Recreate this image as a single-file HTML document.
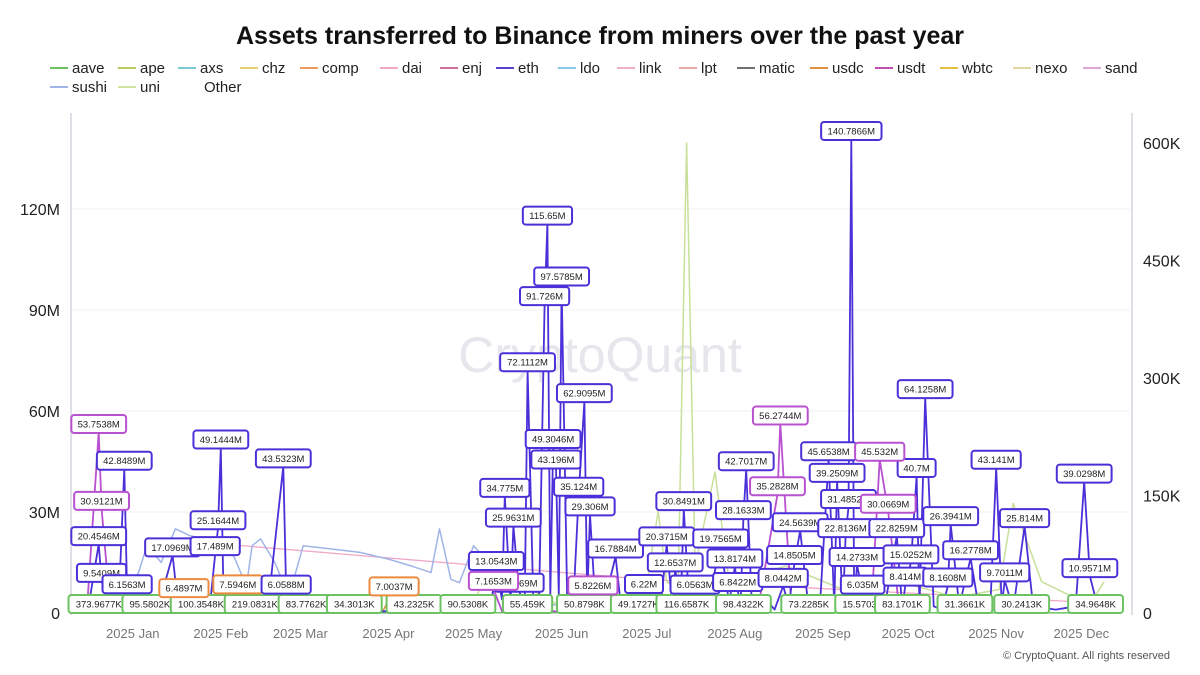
<!DOCTYPE html>
<html><head><meta charset="utf-8"><style>
body{margin:0;background:#fff;font-family:"Liberation Sans",sans-serif}
svg{display:block}
</style></head><body>
<svg id="chart" width="1200" height="675" font-family="Liberation Sans, sans-serif">
<text x="600" y="44" text-anchor="middle" font-size="25" font-weight="bold" fill="#111">Assets transferred to Binance from miners over the past year</text>
<g id="legend"></g>
<text x="600" y="372" text-anchor="middle" font-size="50" fill="#e6e6ec">CryptoQuant</text>
<line x1="71" y1="113" x2="71" y2="615" stroke="#d4d4dc" stroke-width="1.5"/>
<line x1="1132" y1="113" x2="1132" y2="615" stroke="#d4d4dc" stroke-width="1.5"/>
<g id="grid"></g><g id="series"></g><g id="labels"></g>
<text x="1170" y="659" text-anchor="end" font-size="11" fill="#555">© CryptoQuant. All rights reserved</text>
</svg>
<script>
const legendNames=["aave","ape","axs","chz","comp","dai","enj","eth","ldo","link","lpt","matic","usdc","usdt","wbtc","nexo","sand","sushi","uni","Other"];
const legendColors=["#6cc262","#b8cc5e","#7ccbd4","#e6cf6e","#ec9a5e","#f2a8c4","#d0709e","#5a40c8","#88c8e8","#f0b0c8","#e8a8a8","#707070","#e09040","#c050b0","#e8c040","#e0d8a0","#e0a8d8","#a0b4e8","#d0e4a0",""];
const legendX=[50,118,178,240,300,380,440,496,558,617,679,737,810,875,940,1013,1083,50,118,182];
const leftTicks=[0,30,60,90,120];
const leftTickLabels=["0","30M","60M","90M","120M"];
const rightTicks=[150,300,450,600];
const rightTickLabels=["150K","300K","450K","600K"];
const monthDays=[20,51,79,110,140,171,201,232,263,293,324,354];
const monthLabels=["2025 Jan","2025 Feb","2025 Mar","2025 Apr","2025 May","2025 Jun","2025 Jul","2025 Aug","2025 Sep","2025 Oct","2025 Nov","2025 Dec"];
const ethDays=[2,5,8,9,11,13,15,17,18,20,25,30,34,36,40,44,47,49,50,51,52,56,62,68,73,74,76,90,110,130,140,146,148,150,151,153,154,156,158,159,161,163,165,166,167,168,169,170,171,173,175,177,179,180,181,183,186,190,192,196,200,203,206,208,210,211,213,214,216,218,222,227,230,232,233,234,235,236,238,242,246,249,251,253,255,258,262,265,267,268,270,271,272,273,274,275,277,280,285,289,291,292,294,296,297,299,302,305,307,308,311,315,318,322,324,326,327,330,334,337,345,352,355,357,360];
const ethVals=[2,5,20.4546,9.5409,3,5.5,2,42.8489,6.1563,1,4,5,17.0969,2,5,3,1,17.489,25.1644,49.1444,2,5,1,5,43.5323,6.0588,1,0.5,0.5,1,0.5,2,13.0543,4,34.775,3,25.9631,6.5969,2,72.1112,5,1,91.726,115.65,5,49.3046,43.196,5,97.5785,2,1,35.124,62.9095,4,29.306,1,3,16.7884,1,2,6.22,1,3,20.3715,2,12.6537,4,30.8491,1,6.0563,2,19.7565,3,13.8174,6.8422,2,28.1633,42.7017,2,5,1,8.0442,2,14.8505,24.5639,1,3,45.6538,2,39.2509,1,22.8136,31.4852,140.7866,2,14.2733,6.035,1,3,22.8259,1,8.414,15.0252,40.7,2,64.1258,2,1,8.1608,26.3941,2,16.2778,1,3,43.141,2,9.7011,1,25.814,2,1,2,39.0298,10.9571,1];
const enjDays=[4,8,9,12,20,60,146,147,150,180,182,185,240,247,248,252,280,283,286,290,300];
const enjVals=[3,53.7538,30.9121,2,0.5,0.5,0.5,7.1653,0.5,0.5,5.8226,0.5,0.5,35.2828,56.2744,0.5,0.5,45.532,30.0669,0.5,0.5];
const compDays=[5,30,38,45,55,57,60,80,100,108,112,116,125];
const compVals=[1,0.5,6.4897,0.5,0.5,7.5946,0.5,0.5,0.5,0.5,7.0037,0.5,0.3];
const aaveDays=[8,26,44,63,81,98,119,138,159,179,198,215,235,258,277,291,313,333,359];
const aaveVals=[373.9677,95.5802,100.3548,219.0831,83.7762,34.3013,43.2325,90.5308,55.459,50.8798,49.1727,116.6587,98.4322,73.2285,15.5703,83.1701,31.3661,30.2413,34.9648];
const sushiDays=[15,22,25,30,35,40,45,50,55,60,62,65,70,75,80,90,100,110,118,125,128,132,135,140,142,145,150,160,175,200];
const sushiVals=[3,12,20,15,25,23,22,21,18,8,20,22,15,5,20,19,18,16,14,12,25,10,9,20,18,18,5,3,2,1];
const uniDays=[120,130,140,145,150,160,170,180,190,200,205,208,212,215,218,225,230,250,270,290,310,325,330,340,357,362];
const uniVals=[5,20,10,60,40,30,10,20,5,15,130,40,30,600,60,180,40,60,30,40,20,30,140,40,10,40];
const daiDays=[30,200,360];
const daiVals=[22,10,3];

const NS="http://www.w3.org/2000/svg";
const X=d=>76+d*2.84;
const YL=v=>613-v*3.367;
const YR=v=>613-v*0.7833;
function mk(tag,attrs,parent,text){const e=document.createElementNS(NS,tag);for(const k in attrs)e.setAttribute(k,attrs[k]);if(text!==undefined)e.textContent=text;parent.appendChild(e);return e;}
const grid=document.getElementById('grid'),series=document.getElementById('series'),labels=document.getElementById('labels'),legend=document.getElementById('legend');

legendNames.forEach((n,i)=>{
  const y=i<17?68:87;
  const g=mk('g',{},legend);
  
  
  if(legendColors[i]) mk('line',{x1:legendX[i],y1:y,x2:legendX[i]+18,y2:y,stroke:legendColors[i],'stroke-width':2},g);
  mk('text',{x:legendX[i]+22,y:y+5,'font-size':15,fill:'#222'},g,n);
});
leftTicks.forEach((v,i)=>{
  if(v>0){const l=mk('line',{x1:73,x2:1130,y1:YL(v),y2:YL(v),stroke:'#f2f2f4'},grid);
  
  }
  const t=mk('text',{x:60,y:YL(v)+6,'text-anchor':'end','font-size':16,fill:'#222'},grid,leftTickLabels[i]);
  
  
});
mk('text',{x:1143,y:YL(0)+6,'font-size':16,fill:'#222'},grid,"0");
rightTicks.forEach((v,i)=>{
  const t=mk('text',{x:1143,y:YR(v)+6,'font-size':16,fill:'#222'},grid,rightTickLabels[i]);
  
  
});
monthDays.forEach((d,i)=>{
  const t=mk('text',{x:X(d),y:638,'text-anchor':'middle','font-size':13,fill:'#777'},grid,monthLabels[i]);
  
  
});
function line(days,vals,scale,color,w,name){
  const p=mk('polyline',{points:days.map((d,i)=>X(d).toFixed(1)+','+scale(vals[i]).toFixed(1)).join(' '),fill:'none',stroke:color,'stroke-width':w,'stroke-linejoin':'round'},series);
  
  
}
line(daiDays,daiVals,YL,'#f0a8c8',1.3,'dai-line');
line(sushiDays,sushiVals,YL,'#a0b4e8',1.5,'sushi-line');
line(uniDays,uniVals,YR,'#c8e09a',1.5,'uni-line');
line(compDays,compVals,YL,'#ec8a40',1.5,'comp-line');
line(aaveDays,aaveVals.map(v=>v/1000),YL,'#6cc262',1.5,'aave-line');
line(enjDays,enjVals,YL,'#b850d0',1.8,'enj-line');
line(ethDays,ethVals,YL,'#4a30d8',1.8,'eth-line');
function fmt(v,unit){return v+unit;}
function box(x,y,txt,color,name){
  const g=mk('g',{},labels);
  
  
  const w=txt.length*5.6+10;
  mk('rect',{x:x-w/2,y:y-9,width:w,height:18,rx:3,fill:'#fff',stroke:color,'stroke-width':2},g);
  mk('text',{x:x,y:y+3.5,'text-anchor':'middle','font-size':9.5,fill:'#222'},g,txt);
}
aaveDays.forEach((d,i)=>box(X(d),604,fmt(aaveVals[i],'K'),'#6cc262','aave-value-label'));
compDays.forEach((d,i)=>{if(compVals[i]>=6)box(X(d),YL(compVals[i])-3,fmt(compVals[i],'M'),'#ec8a40','comp-value-label');});
ethDays.forEach((d,i)=>{if(ethVals[i]>=6)box(X(d),YL(ethVals[i])-8,fmt(ethVals[i],'M'),'#4a30d8','eth-value-label');});
enjDays.forEach((d,i)=>{if(enjVals[i]>=5.8)box(X(d),YL(enjVals[i])-8,fmt(enjVals[i],'M'),'#b850d0','enj-value-label');});
</script>
</body></html>
